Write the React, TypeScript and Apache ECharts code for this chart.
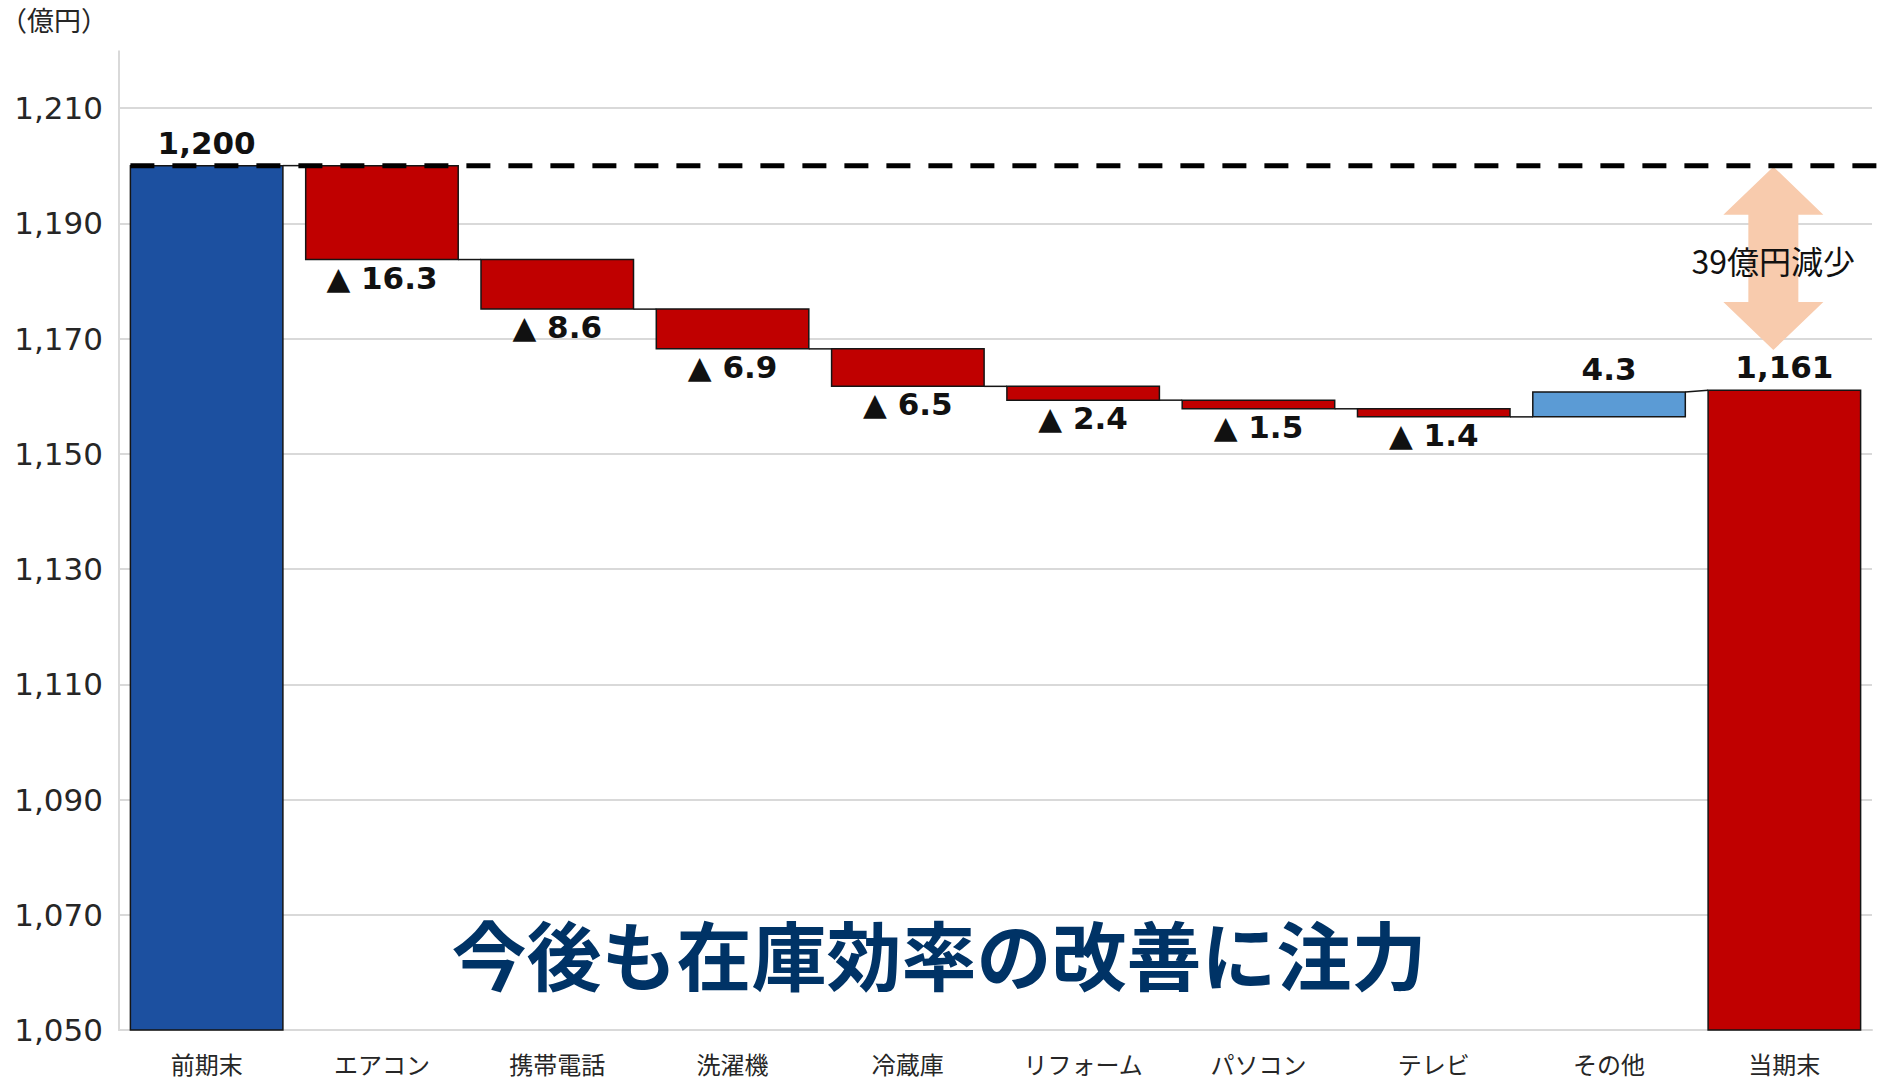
import React, { useEffect, useRef } from "react";
import * as echarts from "echarts";

const categories = ["前期末", "エアコン", "携帯電話", "洗濯機", "冷蔵庫", "リフォーム", "パソコン", "テレビ", "その他", "当期末"];
const startTotal = 1200;
const endTotal = 1161;
const changes = [-16.3, -8.6, -6.9, -6.5, -2.4, -1.5, -1.4, 4.3];
const yTicks = [1050, 1070, 1090, 1110, 1130, 1150, 1170, 1190, 1210];
const yMin = 1050;
const yMax = 1210;
const yAxisTop = 1220;
const referenceLevel = 1200;
const arrowBottomValue = 1168;
const unitLabel = "（億円）";
const noteText = "39億円減少";
const titleText = "今後も在庫効率の改善に注力";

const COLORS = { start: "#1C50A0", down: "#C00000", up: "#5B9BD5", end: "#C00000" };

type Row = { lo: number; hi: number; kind: keyof typeof COLORS; label: string; labelPos: "top" | "bottom"; endLevel: number; startLevel: number };
const rows: Row[] = [];
rows.push({ lo: yMin, hi: startTotal, kind: "start", label: startTotal.toLocaleString("en-US"), labelPos: "top", endLevel: startTotal, startLevel: startTotal });
let level = startTotal;
changes.forEach((c) => {
  const next = +(level + c).toFixed(2);
  if (c < 0) {
    rows.push({ lo: next, hi: level, kind: "down", label: "▲ " + Math.abs(c).toFixed(1), labelPos: "bottom", endLevel: next, startLevel: level });
  } else {
    rows.push({ lo: level, hi: next, kind: "up", label: c.toFixed(1), labelPos: "top", endLevel: next, startLevel: level });
  }
  level = next;
});
rows.push({ lo: yMin, hi: endTotal, kind: "end", label: endTotal.toLocaleString("en-US"), labelPos: "top", endLevel: endTotal, startLevel: endTotal });

const barData = rows.map((r, i) => [i, r.lo, r.hi]);
const connectorData = rows.slice(0, -1).map((r, i) => [i, r.endLevel, rows[i + 1].startLevel]);

const BAR_RATIO = 0.87;
const LABEL_FONT = "bold 31px 'DejaVu Sans', Verdana, sans-serif";

export default function App() {
  const ref = useRef<HTMLDivElement>(null);
  useEffect(() => {
    if (!ref.current) return;
    const chart = echarts.init(ref.current, null, { renderer: "svg" });
    const option: any = {
      animation: false,
      grid: { left: 119, right: 24, top: 108, bottom: 49, containLabel: false },
      xAxis: {
        type: "category",
        data: categories,
        axisTick: { show: false },
        axisLine: { show: true, lineStyle: { color: "#D9D9D9", width: 2 } },
        axisLabel: { fontSize: 24, margin: 21, color: "#262626", fontFamily: "'Noto Sans CJK JP', sans-serif" },
        splitLine: { show: false },
      },
      yAxis: {
        type: "value",
        min: yMin,
        max: yMax,
        interval: 20,
        axisTick: { show: false },
        axisLine: { show: true, lineStyle: { color: "#D9D9D9", width: 2 } },
        axisLabel: {
          fontSize: 31,
          margin: 16,
          color: "#262626",
          fontFamily: "'DejaVu Sans', Verdana, sans-serif",
          formatter: (v: number) => (yTicks.includes(v) ? v.toLocaleString("en-US") : ""),
        },
        splitLine: { show: true, lineStyle: { color: "#D9D9D9", width: 2 } },
      },
      series: [
        {
          type: "custom",
          z: 3,
          clip: false,
          data: barData,
          encode: { x: 0, y: [1, 2] },
          renderItem: (params: any, api: any) => {
            const i = api.value(0);
            const lo = api.value(1);
            const hi = api.value(2);
            const r = rows[params.dataIndex];
            const pTop = api.coord([i, hi]);
            const pBot = api.coord([i, lo]);
            const bw = api.size([1, 0])[0] * BAR_RATIO;
            const labelY = r.labelPos === "top" ? pTop[1] - 23 : pBot[1] + 18;
            return {
              type: "group",
              children: [
                {
                  type: "rect",
                  shape: { x: pTop[0] - bw / 2, y: pTop[1], width: bw, height: pBot[1] - pTop[1] },
                  style: { fill: COLORS[r.kind], stroke: "#151515", lineWidth: 1.5 },
                },
                {
                  type: "text",
                  z2: 10,
                  style: { text: r.label, x: pTop[0], y: labelY, align: "center", verticalAlign: "middle", font: LABEL_FONT, fill: "#111" },
                },
              ],
            };
          },
        },
        {
          type: "custom",
          z: 2,
          clip: false,
          data: connectorData,
          encode: { x: 0, y: [1, 2] },
          renderItem: (params: any, api: any) => {
            const i = api.value(0);
            const a = api.coord([i, api.value(1)]);
            const b = api.coord([i + 1, api.value(2)]);
            const bw = api.size([1, 0])[0] * BAR_RATIO;
            return {
              type: "line",
              shape: { x1: a[0] + bw / 2, y1: a[1], x2: b[0] - bw / 2, y2: b[1] },
              style: { stroke: "#151515", lineWidth: 1.5 },
            };
          },
        },
      ],
    };
    chart.setOption(option);

    const yOf = (v: number) => chart.convertToPixel({ yAxisIndex: 0 }, v) as number;
    const xOf = (i: number) => chart.convertToPixel({ xAxisIndex: 0 }, i) as number;
    const band = xOf(1) - xOf(0);
    const bw = band * BAR_RATIO;
    const yRef = yOf(referenceLevel);
    const axisX = 119;
    const cx = xOf(categories.length - 1) - 11;
    const yTop = yRef + 1;
    const yBot = yOf(arrowBottomValue);
    const hh = 48;
    const hw = 50;
    const sw = 25;
    const W = chart.getWidth();

    chart.setOption({
      graphic: [
        {
          type: "line",
          z: 1,
          shape: { x1: axisX, y1: yOf(yAxisTop), x2: axisX, y2: yOf(yMax) },
          style: { stroke: "#D9D9D9", lineWidth: 2 },
        },
        {
          type: "text",
          left: 0,
          top: 6,
          style: { text: unitLabel, font: "27px 'Noto Sans CJK JP', sans-serif", fill: "#262626" },
        },
        {
          type: "polygon",
          z: 20,
          shape: {
            points: [
              [cx, yTop],
              [cx + hw, yTop + hh],
              [cx + sw, yTop + hh],
              [cx + sw, yBot - hh],
              [cx + hw, yBot - hh],
              [cx, yBot],
              [cx - hw, yBot - hh],
              [cx - sw, yBot - hh],
              [cx - sw, yTop + hh],
              [cx - hw, yTop + hh],
            ],
          },
          style: { fill: "#F8CBAD" },
        },
        {
          type: "line",
          z: 25,
          shape: { x1: xOf(0) - bw / 2, y1: yRef, x2: W - 4, y2: yRef },
          style: { stroke: "#000", lineWidth: 5, lineDash: [24, 18] },
        },
        {
          type: "text",
          z: 30,
          style: {
            text: noteText,
            x: cx,
            y: (yTop + yBot) / 2 + 2,
            align: "center",
            verticalAlign: "middle",
            font: "32px 'Noto Sans CJK JP', sans-serif",
            fill: "#111",
          },
        },
        {
          type: "text",
          z: 30,
          style: {
            text: titleText,
            x: 939,
            y: 952,
            align: "center",
            verticalAlign: "middle",
            font: "bold 75px 'Noto Sans CJK JP', sans-serif",
            fill: "#003366",
          },
        },
      ],
    });

    return () => chart.dispose();
  }, []);
  return <div ref={ref} style={{ position: "absolute", left: 0, top: 0, width: 1896, height: 1079 }} />;
}
